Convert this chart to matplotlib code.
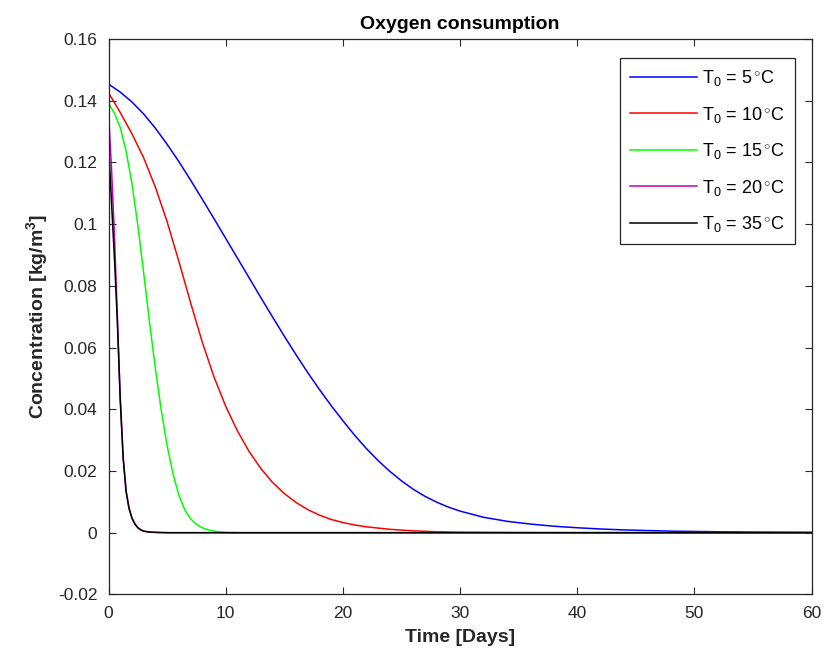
"""Oxygen consumption curves for several initial temperatures (MATLAB-style look)."""
import matplotlib
matplotlib.use("Agg")
import matplotlib.pyplot as plt

plt.rcParams["font.family"] = ["Liberation Sans", "DejaVu Sans"]
plt.rcParams["mathtext.fontset"] = "custom"
plt.rcParams["mathtext.rm"] = "Liberation Sans"
plt.rcParams["mathtext.it"] = "Liberation Sans:italic"
plt.rcParams["mathtext.bf"] = "Liberation Sans:bold"

# values (days, kg/m^3)
t_5 = [0, 1, 2, 3, 4, 5, 6, 7, 8, 9, 10, 11, 12, 13, 14, 15, 16, 17, 18, 19, 20,
       21, 22, 23, 24, 25, 26, 27, 28, 29, 30, 32, 34, 36, 38, 40, 42, 44, 46, 48,
       50, 52, 55, 60]
c_5 = [0.1454, 0.1428, 0.1396, 0.1357, 0.1311, 0.1259, 0.1203, 0.1143, 0.1081, 0.1018,
       0.0954, 0.0890, 0.0826, 0.0762, 0.0699, 0.0637, 0.0577, 0.0519, 0.0464, 0.0412,
       0.0363, 0.0316, 0.0273, 0.0234, 0.0199, 0.0168, 0.0141, 0.0118, 0.0099, 0.0083,
       0.0070, 0.0050, 0.0037, 0.0028, 0.0021, 0.0016, 0.0012, 0.0009, 0.0007, 0.0005,
       0.0004, 0.0003, 0.0002, 0.0001]
t_10 = [0, 1, 2, 3, 4, 5, 6, 7, 8, 9, 10, 11, 12, 13, 14, 15, 16, 17, 18, 19, 20,
        21, 22, 24, 26, 28, 30, 35, 40, 60]
c_10 = [0.1426, 0.1362, 0.1293, 0.1215, 0.1120, 0.1008, 0.0880, 0.0746, 0.0618, 0.0505,
        0.0410, 0.0330, 0.0263, 0.0208, 0.0163, 0.0127, 0.0098, 0.0075, 0.0057, 0.0043,
        0.0033, 0.0025, 0.0019, 0.0011, 0.0006, 0.0003, 0.00015, 0.00003, 0.0, 0.0]
t_15 = [0, 0.5, 1, 1.5, 2, 2.5, 3, 3.5, 4, 4.5, 5, 5.5, 6, 6.5, 7, 7.5, 8, 8.5, 9, 10,
        11, 60]
c_15 = [0.1392, 0.1360, 0.1313, 0.1237, 0.1132, 0.0997, 0.0842, 0.0682, 0.0532, 0.0397,
        0.0282, 0.0192, 0.0122, 0.0075, 0.0045, 0.0027, 0.0016, 0.0009, 0.0005, 0.0001,
        0.0, 0.0]
t_fast = [0, 0.25, 0.5, 0.75, 1.0, 1.25, 1.5, 1.75, 2.0, 2.25, 2.5, 2.75, 3.0, 3.5, 4,
          5, 60]
c_20 = [0.1364, 0.1185, 0.0970, 0.0705, 0.0440, 0.0245, 0.0135, 0.0080, 0.0048, 0.0029,
        0.0017, 0.0010, 0.0005, 0.0002, 0.0001, 0.0, 0.0]
c_35 = [0.1257, 0.1075, 0.0895, 0.0690, 0.0432, 0.0242, 0.0134, 0.0079, 0.0047, 0.0028,
        0.0016, 0.0009, 0.0005, 0.0002, 0.0001, 0.0, 0.0]

series = [
    (t_5, c_5, "b", r"T$_0$ = 5$\,^{\circ}$C"),
    (t_10, c_10, "r", r"T$_0$ = 10$\,^{\circ}$C"),
    (t_15, c_15, "#00ff00", r"T$_0$ = 15$\,^{\circ}$C"),
    (t_fast, c_20, "m", r"T$_0$ = 20$\,^{\circ}$C"),
    (t_fast, c_35, "k", r"T$_0$ = 35$\,^{\circ}$C"),
]

AX = "#262626"
fig = plt.figure(figsize=(8.27, 6.66), dpi=100)
ax = fig.add_axes([0.1312, 0.1075, 0.8502, 0.8339])
for t, c, col, lab in series:
    ax.plot(t, c, color=col, lw=1.1, label=lab)

ax.set_xlim(0, 60)
ax.set_ylim(-0.02, 0.16)
ax.set_xticks(range(0, 61, 10))
ax.set_yticks([-0.02, 0, 0.02, 0.04, 0.06, 0.08, 0.1, 0.12, 0.14, 0.16])
ax.set_yticklabels(["-0.02", "0", "0.02", "0.04", "0.06", "0.08", "0.1", "0.12", "0.14", "0.16"])
ax.tick_params(direction="in", top=True, right=True, length=5, width=0.8,
               colors=AX, labelsize=12.5, pad=8)
for s in ax.spines.values():
    s.set_color(AX); s.set_linewidth(0.9)

ax.set_title("Oxygen consumption", fontsize=14, fontweight="bold", color="black", pad=7)
ax.set_xlabel("Time [Days]", fontsize=14, fontweight="bold", color=AX, labelpad=6)
ax.set_ylabel(r"Concentration [kg/m$^\mathbf{3}$]", fontsize=14, fontweight="bold",
              color=AX, labelpad=6)

leg = ax.legend(loc="upper right", fontsize=13, handlelength=3.7, handletextpad=0.3,
                labelspacing=0.92, borderpad=0.55, borderaxespad=0, fancybox=False,
                framealpha=1, edgecolor=AX, bbox_to_anchor=(0.9764, 0.9658))
leg.get_frame().set_linewidth(0.9)

fig.savefig("out.png", dpi=100, facecolor="white")
